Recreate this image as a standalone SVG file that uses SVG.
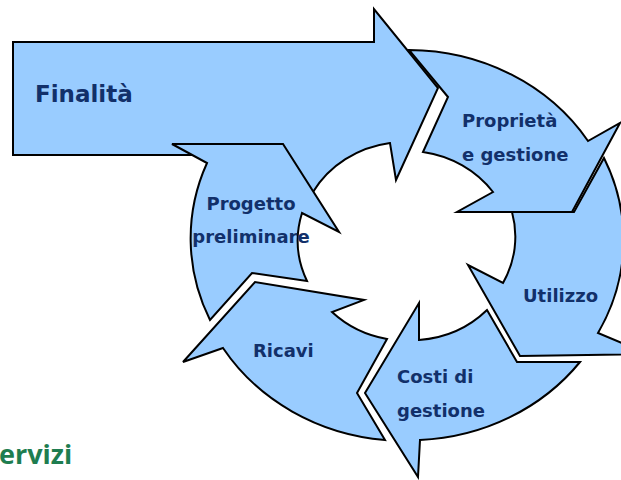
<svg xmlns="http://www.w3.org/2000/svg" width="621" height="480" viewBox="0 0 621 480">
  <style>
    .seg { fill: #99CCFF; stroke: #000; stroke-width: 2; stroke-linejoin: miter; }
    .lbl { font-family: "DejaVu Sans", Verdana, sans-serif; font-weight: bold; font-size: 18px; fill: #12306A; }
    .big { font-size: 23px; }
    .brand { font-family: "Open Sans", "DejaVu Sans", sans-serif; font-weight: bold; font-size: 27px; fill: #1E7D50; }
  </style>
  <rect width="621" height="480" fill="#fff"/>

  <!-- ring segments, clockwise from the top; ellipse centre about (406,244) -->
  <g id="utilizzo">
    <path class="seg" d="M512,212 L574,212 L604,158 A213,196 0 0 1 598,333 L648,354 L520,356 L468,265 L503,283 A106,99 0 0 0 512,212 Z"/>
    <text class="lbl" x="523" y="302">Utilizzo</text>
  </g>
  <g id="proprieta">
    <path class="seg" d="M409,50 A213,196 0 0 1 588,141 L620,123 L572,212 L457,212 L493,192 A106,99 0 0 0 423,152 L448,97 Z"/>
    <text class="lbl" x="462" y="127">Proprietà</text>
    <text class="lbl" x="462" y="161">e gestione</text>
  </g>
  <g id="costi">
    <path class="seg" d="M487,310 L517,362 L580,362 A213,196 0 0 1 420,440 L418,477 L365,393 L419,303 L419,340 A106,99 0 0 0 487,310 Z"/>
    <text class="lbl" x="397" y="383">Costi di</text>
    <text class="lbl" x="397" y="417">gestione</text>
  </g>
  <g id="ricavi">
    <path class="seg" d="M385,440 L357,393 L387,339 A106,99 0 0 1 332,312 L364,300 L255,282 L183,362 L223,348 A213,196 0 0 0 385,440 Z"/>
    <text class="lbl" x="253" y="357">Ricavi</text>
  </g>
  <g id="finalita">
    <path class="seg" d="M13,42 L374,42 L374,9 L438,88 L396,180 L390,143 A106,99 0 0 0 313,192 L283,155 L13,155 Z"/>
    <text class="lbl big" x="35" y="102">Finalità</text>
  </g>
  <g id="progetto">
    <path class="seg" d="M172,144 L283,144 L339,232 L302,213 A106,99 0 0 0 307,281 L252,273 L210,320 A213,196 0 0 1 207,163 Z"/>
    <text class="lbl" x="251" y="210" text-anchor="middle">Progetto</text>
    <text class="lbl" x="251" y="243" text-anchor="middle">preliminare</text>
  </g>

  <g id="connectors"></g>

  <text class="brand" x="-1" y="464">ervizi</text>
</svg>
